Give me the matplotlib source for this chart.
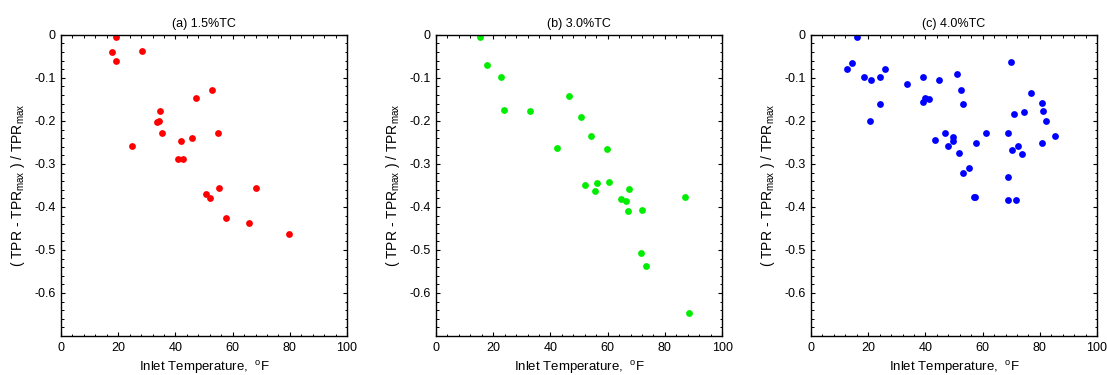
import matplotlib
matplotlib.use('Agg')
import matplotlib.pyplot as plt
from matplotlib.ticker import MultipleLocator

plt.rcParams['font.family'] = ['Liberation Sans', 'DejaVu Sans']
plt.rcParams['mathtext.fontset'] = 'custom'
plt.rcParams['mathtext.rm'] = 'Liberation Sans'
plt.rcParams['mathtext.it'] = 'Liberation Sans'

# (a) 1.5%TC
temp_a = [19.2, 17.8, 19.3, 28.4, 52.8, 47.3, 34.7, 33.4, 34.4, 35.2, 55.0, 45.7,
          42.1, 24.9, 40.9, 42.5, 50.6, 52.1, 55.4, 68.2, 57.7, 65.6, 79.7]
tpr_a = [-0.004, -0.039, -0.061, -0.038, -0.127, -0.146, -0.178, -0.202, -0.200, -0.229,
         -0.227, -0.239, -0.247, -0.259, -0.289, -0.288, -0.370, -0.380, -0.357, -0.355,
         -0.425, -0.437, -0.462]

# (b) 3.0%TC
temp_b = [15.3, 17.9, 22.8, 23.7, 32.9, 46.6, 50.7, 54.2, 42.3, 59.7, 52.0, 56.1,
          55.7, 60.4, 67.6, 64.6, 66.4, 67.0, 72.0, 86.9, 71.7, 73.4, 88.6]
tpr_b = [-0.005, -0.069, -0.097, -0.174, -0.176, -0.143, -0.191, -0.234, -0.263, -0.265,
         -0.348, -0.344, -0.363, -0.343, -0.358, -0.381, -0.387, -0.410, -0.407, -0.378,
         -0.508, -0.538, -0.647]

# (c) 4.0%TC
temp_c = [16.2, 12.7, 14.5, 25.9, 18.6, 20.9, 24.0, 24.0, 20.5, 33.6, 39.0, 44.7,
          50.9, 52.5, 53.3, 39.2, 40.0, 41.4, 43.5, 46.7, 48.0, 49.7, 49.7, 51.8,
          57.8, 61.1, 55.1, 53.3, 57.1, 57.5, 69.8, 69.0, 71.1, 70.2, 72.5, 73.9,
          74.6, 77.0, 80.6, 81.2, 82.3, 80.7, 85.2, 68.7, 69.0, 71.6]
tpr_c = [-0.004, -0.079, -0.065, -0.080, -0.097, -0.106, -0.098, -0.161, -0.200, -0.115,
         -0.097, -0.104, -0.092, -0.129, -0.161, -0.155, -0.147, -0.149, -0.244, -0.227,
         -0.258, -0.237, -0.247, -0.275, -0.252, -0.227, -0.309, -0.322, -0.378, -0.376,
         -0.063, -0.227, -0.183, -0.267, -0.258, -0.276, -0.179, -0.134, -0.159, -0.178,
         -0.200, -0.252, -0.236, -0.330, -0.384, -0.385]

titles = ['(a) 1.5%TC', '(b) 3.0%TC', '(c) 4.0%TC']
colors = ['#ff0000', '#00ee00', '#0000ff']
temps = [temp_a, temp_b, temp_c]
tprs = [tpr_a, tpr_b, tpr_c]

fig = plt.figure(figsize=(11.07, 3.75), dpi=100)
lefts = [0.0551, 0.3939, 0.7326]

for i in range(3):
    ax = fig.add_axes([lefts[i], 0.104, 0.2584, 0.803])
    ax.plot(temps[i], tprs[i], 'o', color=colors[i], ms=4.9, mec='none')
    ax.set_xlim(0, 100)
    ax.set_ylim(-0.7, 0)
    ax.xaxis.set_major_locator(MultipleLocator(20))
    ax.xaxis.set_minor_locator(MultipleLocator(4))
    ax.set_yticks([0, -0.1, -0.2, -0.3, -0.4, -0.5, -0.6])
    ax.set_yticklabels(['0', '-0.1', '-0.2', '-0.3', '-0.4', '-0.5', '-0.6'])
    ax.yaxis.set_minor_locator(MultipleLocator(0.02))
    ax.tick_params(which='both', direction='in', top=True, right=True, labelsize=9)
    ax.tick_params(which='major', length=3, width=0.8, pad=4)
    ax.tick_params(which='minor', length=1.8, width=0.7)
    for s in ax.spines.values():
        s.set_linewidth(1.0)
    ax.set_title(titles[i], fontsize=9, pad=6)
    ax.set_xlabel('Inlet Temperature,  $^{o}$F', fontsize=9.5, labelpad=4)
    ax.set_ylabel('( TPR - TPR$_{max}$ ) / TPR$_{max}$', fontsize=10, labelpad=5)

fig.savefig('out.png', dpi=100)
